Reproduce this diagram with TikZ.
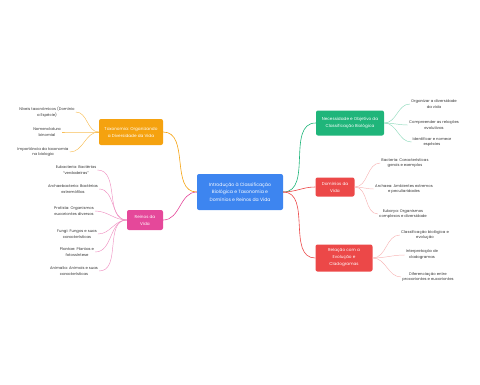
\documentclass[tikz,border=0pt]{standalone}
\usepackage{fontspec}
\setmainfont{Poppins}
\usetikzlibrary{positioning}

\definecolor{centralblue}{HTML}{3D85F0}
\definecolor{taxorange}{HTML}{F5A20F}
\definecolor{reinopink}{HTML}{E5489A}
\definecolor{objgreen}{HTML}{1FB57A}
\definecolor{domred}{HTML}{EC4848}

\begin{document}
\begin{tikzpicture}[
    x=1pt, y=-1pt,
    every node/.style={align=center},
    central/.style={rectangle, rounded corners=2pt, fill=centralblue, text=white, minimum width=86pt, minimum height=36pt, font=\fontsize{4.6}{7.6}\selectfont},
    branch/.style={rectangle, rounded corners=2pt, text=white, inner sep=3pt, font=\fontsize{4.2}{7}\selectfont},
    leaf/.style={inner sep=1pt, font=\fontsize{3.8}{5.8}\selectfont, text=black!80},
    link/.style={line width=0.6pt},
    twig/.style={line width=0.45pt}
]
\useasboundingbox (0,0) rectangle (480,384);

% NODES
\node[central] (intro) at (240,192) {Introdução à Classificação\\Biológica e Taxonomia e\\Domínios e Reinos da Vida};

\node[branch, fill=taxorange, minimum width=64pt, minimum height=26pt] (taxo) at (131,132) {Taxonomia: Organizando\\a Diversidade da Vida};
\node[branch, fill=reinopink, minimum width=36pt, minimum height=20pt] (reinos) at (145,220) {Reinos da\\Vida};
\node[branch, fill=objgreen, minimum width=68pt, minimum height=25pt] (objetivo) at (350,123) {Necessidade e Objetivo da\\Classificação Biológica};
\node[branch, fill=domred, minimum width=39pt, minimum height=19pt] (dominios) at (335,187) {Domínios da\\Vida};
\node[branch, fill=domred, minimum width=57pt, minimum height=27pt] (evolucao) at (344,258) {Relação com a\\Evolução e\\Cladogramas};

% taxonomia
\node[leaf] (niveis) at (47,112) {Níveis taxonômicos (Domínio\\a Espécie)};
\node[leaf] (binomial) at (47,132) {Nomenclatura\\binomial};
\node[leaf] (importancia) at (43,152) {Importância da taxonomia\\na biologia};

% reinos
\node[leaf] (eubac) at (76,170) {Eubacteria: Bactérias\\“verdadeiras”};
\node[leaf] (archaebac) at (73,189) {Archaebacteria: Bactérias\\extremófilas};
\node[leaf] (protista) at (74,211) {Protista: Organismos\\eucariontes diversos};
\node[leaf] (fungi) at (77,234) {Fungi: Fungos e suas\\características};
\node[leaf] (plantae) at (77,252) {Plantae: Plantas e\\fotossíntese};
\node[leaf] (animalia) at (74,271) {Animalia: Animais e suas\\características};

% objetivo
\node[leaf] (organizar) at (434,104) {Organizar a diversidade\\da vida};
\node[leaf] (compreender) at (434,125) {Compreender as relações\\evolutivas};
\node[leaf] (identificar) at (432,142) {Identificar e nomear\\espécies};

% dominios
\node[leaf] (bacteria) at (405,163) {Bacteria: Características\\gerais e exemplos};
\node[leaf] (archaea) at (404,189) {Archaea: Ambientes extremos\\e peculiaridades};
\node[leaf] (eukarya) at (403,214) {Eukarya: Organismos\\complexos e diversidade};

% evolucao
\node[leaf] (classif) at (425,235) {Classificação biológica e\\evolução};
\node[leaf] (cladogramas) at (422,255) {Interpretação de\\cladogramas};
\node[leaf] (diferenc) at (428,277) {Diferenciação entre\\procariontes e eucariontes};

% ARROWS
\draw[link, taxorange] (intro.west) to[out=180, in=0] (taxo.east);
\draw[link, reinopink] (intro.west) to[out=180, in=0] (reinos.east);
\draw[link, objgreen] (intro.east) to[out=0, in=180] (objetivo.west);
\draw[link, domred] (intro.east) to[out=0, in=180] (dominios.west);
\draw[link, domred] (intro.east) to[out=0, in=180] (evolucao.west);

\foreach \leafname in {niveis, binomial, importancia}
    \draw[twig, taxorange!70] (taxo.west) to[out=180, in=0] (\leafname.east);
\foreach \leafname in {eubac, archaebac, protista, fungi, plantae, animalia}
    \draw[twig, reinopink!60] (reinos.west) to[out=180, in=0] (\leafname.east);
\foreach \leafname in {organizar, compreender, identificar}
    \draw[twig, objgreen!50] (objetivo.east) to[out=0, in=180] (\leafname.west);
\foreach \leafname in {bacteria, archaea, eukarya}
    \draw[twig, domred!40] (dominios.east) to[out=0, in=180] (\leafname.west);
\foreach \leafname in {classif, cladogramas, diferenc}
    \draw[twig, domred!40] (evolucao.east) to[out=0, in=180] (\leafname.west);

\end{tikzpicture}
\end{document}
